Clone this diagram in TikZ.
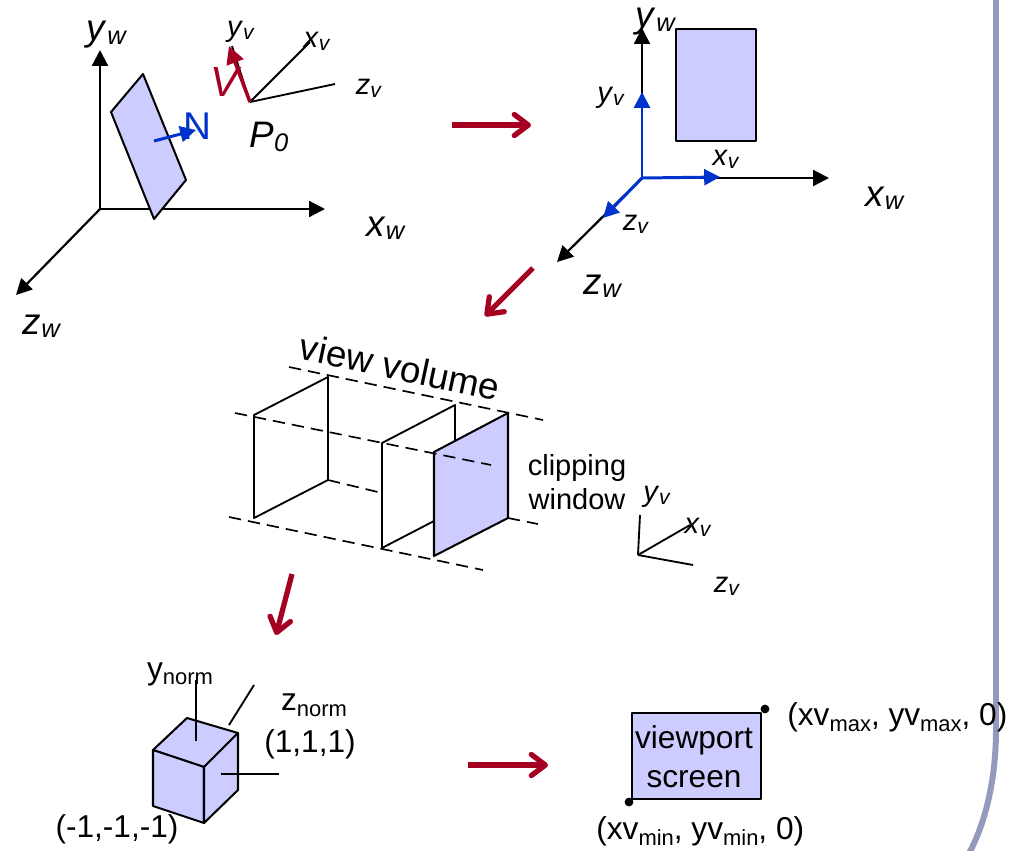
\documentclass[tikz,border=0pt]{standalone}
\usepackage{fontspec}
\setmainfont{Liberation Sans}
\usepackage{tikz}
\usetikzlibrary{arrows.meta,positioning,calc}
\definecolor{clrPlane}{RGB}{204,204,255}
\definecolor{clrBlue}{RGB}{0,51,204}
\definecolor{clrRed}{RGB}{165,0,33}
\definecolor{clrEdge}{RGB}{150,153,190}
\newcommand{\axlbl}[2]{{\fontsize{21}{24}\selectfont\textit{#1}}\raisebox{-0.35ex}{\fontsize{14.5}{16}\selectfont\textit{#2}}}
\newcommand{\smlbl}[2]{{\fontsize{16.5}{19}\selectfont\textit{#1}}\raisebox{-0.35ex}{\fontsize{12}{14}\selectfont\textit{#2}}}
\newcommand{\sbs}[1]{\raisebox{-0.35ex}{\fontsize{12.5}{14}\selectfont #1}}
\tikzset{
  axis/.style={-{Triangle[length=9pt,width=9pt]},line width=1.25pt,color=black},
  thinaxis/.style={line width=1.05pt,color=black},
  viewaxis/.style={-{Triangle[length=9pt,width=9pt]},line width=1.7pt,color=clrBlue},
  redaxis/.style={-{Triangle[length=10pt,width=10pt]},line width=2pt,color=clrRed},
  stepline/.style={-{Straight Barb[round,length=8pt,width=12pt,line width=3pt]},line width=3pt,color=clrRed},
  plane/.style={draw=black,line width=1.15pt,fill=clrPlane,line join=round},
  frame/.style={draw=black,line width=1.05pt,line join=round},
  guide/.style={dash pattern=on 7pt off 4pt,line width=0.95pt,color=black},
  biglbl/.style={inner sep=0pt},
  plainlbl/.style={font=\fontsize{18}{22}\selectfont,inner sep=0pt,align=center},
  dot/.style={circle,fill=black,inner sep=0pt,minimum size=5pt}
}
\begin{document}
\begin{tikzpicture}[x=0.02cm,y=-0.02cm]
  \useasboundingbox (0,0) rectangle (1009,850);
  % slide edge
  \coordinate (ea) at (996,-5);
  \coordinate (eb) at (996,730);
  \coordinate (ec) at (968,855);
  \draw[line width=3.4pt,color=clrEdge] (ea) -- (eb) .. controls (996,780) and (985,825) .. (ec);

  % world axes and tilted plane
  \coordinate (wo) at (100,209);
  \coordinate (wy) at (100,50);
  \coordinate (wx) at (325,209);
  \coordinate (wz) at (16,295);
  \draw[axis] (wo) -- (wy);
  \draw[axis] (wo) -- (wx);
  \draw[axis] (wo) -- (wz);
  \draw[plane] (143,74) -- (186,180) -- (154,219) -- (111,112) -- cycle;
  \coordinate (nb) at (154,141);
  \coordinate (ne) at (196,130);
  \draw[viewaxis] (nb) -- (ne);
  \node[biglbl,text=clrBlue,font=\fontsize{22}{24}\selectfont] (nlbl) at (197,126) {N};
  \node[biglbl] (ylw) at (107,35) {\axlbl{y}{w}};
  \node[biglbl] (xlw) at (386,228) {\axlbl{x}{w}};
  \node[biglbl] (zlw) at (42,326) {\axlbl{z}{w}};

  % viewing frame at P0
  \coordinate (po) at (250,102);
  \coordinate (pb) at (232,46);
  \coordinate (pv) at (229,46);
  \coordinate (px) at (310,42);
  \coordinate (pz) at (335,84);
  \draw[thinaxis] (po) -- (px);
  \draw[thinaxis] (po) -- (pz);
  \draw[thinaxis] (po) -- (pb);
  \draw[redaxis] (po) -- (pv);
  \node[biglbl] (yv1) at (241,32) {\smlbl{y}{v}};
  \node[biglbl] (xv1) at (317,41) {\smlbl{x}{v}};
  \node[biglbl] (zv1) at (369,88) {\smlbl{z}{v}};
  \node[biglbl,text=clrRed,font=\fontsize{24}{26}\selectfont] (vlbl) at (226,82) {\textit{V}};
  \node[biglbl] (p0) at (269,137) {\axlbl{P}{0}};

  % aligned frame
  \coordinate (ao) at (642,178);
  \coordinate (ay) at (642,28);
  \coordinate (ax) at (829,178);
  \coordinate (az) at (557,262);
  \coordinate (by) at (642,92);
  \coordinate (bx) at (720,177);
  \coordinate (bz) at (603,218);
  \draw[axis] (ao) -- (ay);
  \draw[axis] (ao) -- (ax);
  \draw[axis] (ao) -- (az);
  \draw[plane] (676,29) rectangle (756,141);
  \draw[viewaxis] (ao) -- (by);
  \draw[viewaxis] (ao) -- (bx);
  \draw[viewaxis] (ao) -- (bz);
  \node[biglbl] (ylw2) at (656,22) {\axlbl{y}{w}};
  \node[biglbl] (xlw2) at (885,198) {\axlbl{x}{w}};
  \node[biglbl] (zlw2) at (603,286) {\axlbl{z}{w}};
  \node[biglbl] (yv2) at (611,98) {\smlbl{y}{v}};
  \node[biglbl] (xv2) at (726,159) {\smlbl{x}{v}};
  \node[biglbl] (zv2) at (636,224) {\smlbl{z}{v}};

  % view volume
  \draw[frame] (328,377) -- (254,415) -- (254,518) -- (328,480) -- cycle;
  \draw[frame] (382,548) -- (382,443) -- (455,405) -- (455,445);
  \draw[frame] (382,548) -- (434,521);
  \draw[plane] (434,452) -- (508,413) -- (508,518) -- (434,556) -- cycle;
  \draw[guide] (289,367) -- (543,420);
  \draw[guide] (235,413) -- (491,465);
  \draw[guide] (328,480) -- (382,493);
  \draw[guide] (229,517) -- (483,570);
  \draw[guide] (508,518) -- (538,524);
  \node[font=\fontsize{21}{23}\selectfont,inner sep=0pt,rotate=-12] (vv) at (400,367) {view volume};
  \node[plainlbl,font=\fontsize{16.5}{19}\selectfont] (cw) at (577,482) {clipping\\window};

  % small frame beside the window
  \coordinate (so) at (638,555);
  \coordinate (sy) at (640,515);
  \coordinate (sx) at (690,525);
  \coordinate (sz) at (693,565);
  \draw[thinaxis] (so) -- (sy);
  \draw[thinaxis] (so) -- (sx);
  \draw[thinaxis] (so) -- (sz);
  \node[biglbl] (yv3) at (657,497) {\smlbl{y}{v}};
  \node[biglbl] (xv3) at (698,527) {\smlbl{x}{v}};
  \node[biglbl] (zv3) at (727,586) {\smlbl{z}{v}};

  % normalized cube
  \draw[plane] (153,750) -- (187,718) -- (238,733) -- (204,767) -- cycle;
  \draw[plane] (153,750) -- (204,767) -- (204,823) -- (153,806) -- cycle;
  \draw[plane] (204,767) -- (238,733) -- (238,790) -- (204,823) -- cycle;
  \coordinate (cya) at (196,741);
  \coordinate (cyb) at (196,680);
  \coordinate (cza) at (229,725);
  \coordinate (czb) at (254,685);
  \coordinate (cxa) at (221,774);
  \coordinate (cxb) at (279,774);
  \draw[thinaxis] (cya) -- (cyb);
  \draw[thinaxis] (cza) -- (czb);
  \draw[thinaxis] (cxa) -- (cxb);
  \node[plainlbl] (yn) at (180,674) {y\sbs{norm}};
  \node[plainlbl] (zn) at (314,705) {z\sbs{norm}};
  \node[plainlbl] (pmax) at (310,744) {(1,1,1)};
  \node[plainlbl] (pmin) at (117,829) {(-1,-1,-1)};

  % viewport
  \draw[plane] (632,713) rectangle (761,799);
  \node[plainlbl] (vpl) at (694,757) {viewport\\screen};
  \node[dot] (dmax) at (765,709) {};
  \node[dot] (dmin) at (629,802) {};
  \node[plainlbl,anchor=west] (mx) at (787,717) {(xv\sbs{max}, yv\sbs{max}, 0)};
  \node[plainlbl,anchor=west] (mn) at (596,831) {(xv\sbs{min}, yv\sbs{min}, 0)};

  % transformation steps
  \coordinate (s1a) at (452,125);
  \coordinate (s1b) at (531,125);
  \coordinate (s2a) at (533,268);
  \coordinate (s2b) at (485,316);
  \coordinate (s3a) at (292,574);
  \coordinate (s3b) at (276,635);
  \coordinate (s4a) at (468,765);
  \coordinate (s4b) at (548,765);
  \draw[stepline] (s1a) -- (s1b);
  \draw[stepline] (s2a) -- (s2b);
  \draw[stepline] (s3a) -- (s3b);
  \draw[stepline] (s4a) -- (s4b);
\end{tikzpicture}
\end{document}
